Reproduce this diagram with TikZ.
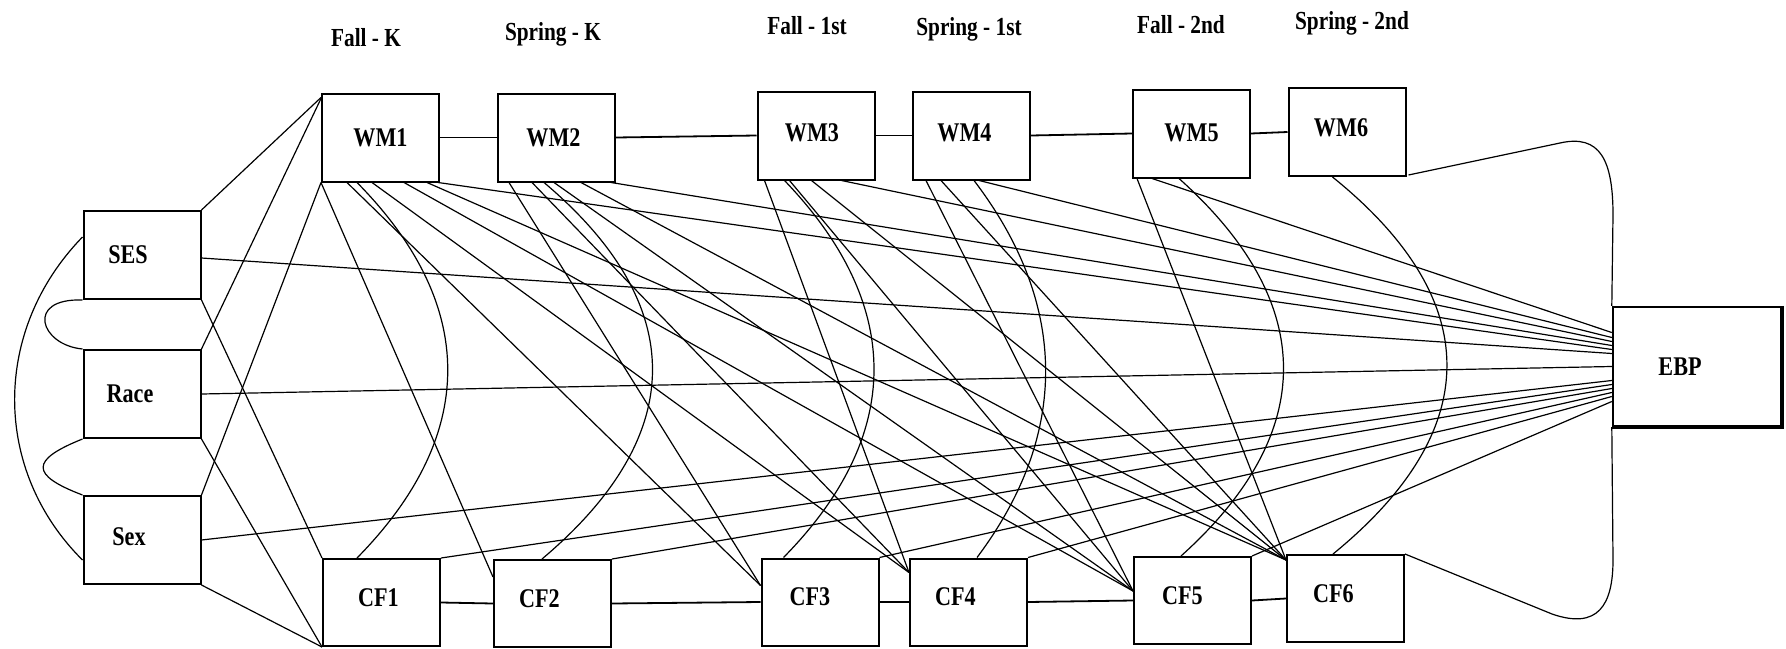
\documentclass[tikz,border=0pt]{standalone}
\usepackage{fontspec}
\newfontfamily\labf{Liberation Serif}[FakeStretch=0.82]
\usetikzlibrary{calc}
\newcommand{\tx}[3]{\hspace*{#1pt}\raisebox{#2pt}{#3}}
\begin{document}
\begin{tikzpicture}[x=1pt,y=-1pt,
  box/.style={draw, line width=2pt, minimum width=117pt, minimum height=88pt, inner sep=0pt,
              font=\labf\bfseries\fontsize{27}{27}\selectfont},
  lnk/.style={line width=1.2pt},
  chain/.style={line width=1.8pt},
  hdr/.style={font=\labf\bfseries\fontsize{26}{26}\selectfont, inner sep=0pt, anchor=base}]
\fill[white] (0,0) rectangle (1786,648);
\useasboundingbox (0,0) rectangle (1786,648);

% headers
\node[hdr] (h1) at (366,46) {Fall - K};
\node[hdr] (h2) at (553,40) {Spring - K};
\node[hdr] (h3) at (807,34) {Fall - 1st};
\node[hdr] (h4) at (969,35) {Spring - 1st};
\node[hdr] (h5) at (1181,33) {Fall - 2nd};
\node[hdr] (h6) at (1352,29) {Spring - 2nd};

% WM boxes
\node[box] (WM1) at (380.5,137.5) {\tx{0}{0}{WM1}};
\node[box] (WM2) at (556.5,137.5) {\tx{-6}{0}{WM2}};
\node[box] (WM3) at (816,135.5) {\tx{-8}{6}{WM3}};
\node[box] (WM4) at (971.5,135.5) {\tx{-14}{6}{WM4}};
\node[box] (WM5) at (1191.5,133.5) {\tx{0}{2}{WM5}};
\node[box] (WM6) at (1347,132) {\tx{-12}{8}{WM6}};
% covariates
\node[box] (SES) at (142,255) {\tx{-28}{0}{SES}};
\node[box] (Race) at (142,394) {\tx{-24}{0}{Race}};
\node[box] (Sex) at (142,540) {\tx{-26}{6}{Sex}};
% CF boxes
\node[box, minimum height=87pt] (CF1) at (381.5,602.5) {\tx{-6}{10}{CF1}};
\node[box, minimum height=87pt] (CF2) at (552.5,603.5) {\tx{-26}{10}{CF2}};
\node[box, minimum height=87pt] (CF3) at (820,602) {\tx{-20}{10}{CF3}};
\node[box, minimum height=87pt] (CF4) at (968.5,602) {\tx{-26}{10}{CF4}};
\node[box, minimum height=87pt] (CF5) at (1192.5,600.5) {\tx{-20}{10}{CF5}};
\node[box, minimum height=87pt] (CF6) at (1345.5,598.5) {\tx{-24}{10}{CF6}};
% outcome
\node[box, minimum width=168pt, minimum height=119pt, line width=2.4pt] (EBP) at (1697,366.5) {\tx{-34}{0}{EBP}};
\draw[line width=3.4pt] (EBP.north east) -- (EBP.south east) -- (EBP.south west);

% autoregressive chains
\draw[chain] (WM1.east) -- (WM2.west);
\draw[chain] (WM2.east) -- (WM3.west);
\draw[chain] (WM3.east) -- (WM4.west);
\draw[chain] (WM4.east) -- (WM5.west);
\draw[chain] (WM5.east) -- (WM6.west);
\draw[chain] (CF1.east) -- (CF2.west);
\draw[chain] (CF2.east) -- (CF3.west);
\draw[chain] (CF3.east) -- (CF4.west);
\draw[chain] (CF4.east) -- (CF5.west);
\draw[chain] (CF5.east) -- (CF6.west);

% covariate paths
\draw[lnk] (SES.north east) -- ($(WM1.north west)+(0,5)$);
\draw[lnk] (Race.north east) -- ($(WM1.north west)+(0,6)$);
\draw[lnk] (Sex.north east) -- (WM1.south west);
\draw[lnk] (SES.south east) -- (CF1.north west);
\draw[lnk] (Race.south east) -- (CF1.south west);
\draw[lnk] (Sex.south east) -- (CF1.south west);
\draw[lnk] ($(SES.east)+(0,3)$) -- ($(EBP.west)+(0,-13)$);
\draw[lnk] (Race.east) -- (EBP.west);
\draw[lnk] (Sex.east) -- ($(EBP.west)+(0,14)$);

% covariate correlations
\draw[lnk] ($(SES.west)+(0,-18)$) .. controls (-8,330) and (-8,470) .. ($(Sex.west)+(0,20)$);
\draw[lnk] (SES.south west) .. controls (25,298) and (40,345) .. (Race.north west);
\draw[lnk] (Race.south west) .. controls (30,460) and (30,475) .. (Sex.north west);

% WM-CF covariances
\draw[lnk] ($(WM1.south west)+(36,0)$) .. controls (478,305) and (478,435) .. ($(CF1.north west)+(35,0)$);
\draw[lnk] ($(WM2.south west)+(47,0)$) .. controls (689,305) and (689,435) .. ($(CF2.north west)+(49,0)$);
\draw[lnk] ($(WM3.south west)+(28,0)$) .. controls (904,305) and (904,435) .. ($(CF3.north west)+(23,0)$);
\draw[lnk] ($(WM4.south west)+(62,0)$) .. controls (1069,305) and (1069,435) .. ($(CF4.north west)+(68,0)$);
\draw[lnk] ($(WM5.south west)+(47,0)$) .. controls (1318,303) and (1318,433) .. ($(CF5.north west)+(48,0)$);
\draw[lnk] ($(WM6.south west)+(45,0)$) .. controls (1485,300) and (1485,430) .. ($(CF6.north west)+(47,0)$);

% WM6 and CF6 to EBP
\draw[lnk] ($(WM6.south east)+(2,-2)$) -- (1560,143) .. controls (1600,134) and (1613,160) .. (1613,215) -- (EBP.north west);
\draw[lnk] (CF6.north east) -- (1552,614) .. controls (1598,630) and (1613,605) .. (1613,560) -- (EBP.south west);

% WM1 paths
\draw[lnk] (WM1.south west) -- ($(CF2.north west)+(0,18)$);
\draw[lnk] ($(WM1.south west)+(26,0)$) -- ($(CF3.north west)+(0,28)$);
\draw[lnk] ($(WM1.south west)+(51,0)$) -- ($(CF4.north west)+(0,15)$);
\draw[lnk] ($(WM1.south west)+(83,0)$) -- ($(CF5.north west)+(0,35)$);
\draw[lnk] ($(WM1.south west)+(106,0)$) -- ($(CF6.north west)+(0,6)$);
\draw[lnk] ($(WM1.south east)+(-2,0)$) -- ($(EBP.west)+(0,-17)$);
% WM2 paths
\draw[lnk] ($(WM2.south west)+(12,0)$) -- ($(CF3.north west)+(0,28)$);
\draw[lnk] ($(WM2.south west)+(35,0)$) -- ($(CF4.north west)+(0,15)$);
\draw[lnk] ($(WM2.south west)+(57,0)$) -- ($(CF5.north west)+(0,35)$);
\draw[lnk] ($(WM2.south west)+(84,0)$) -- ($(CF6.north west)+(0,6)$);
\draw[lnk] ($(WM2.south east)+(-5,0)$) -- ($(EBP.west)+(0,-21)$);
% WM3 paths
\draw[lnk] ($(WM3.south west)+(8,0)$) -- ($(CF4.north west)+(0,15)$);
\draw[lnk] ($(WM3.south west)+(33,0)$) -- ($(CF5.north west)+(0,35)$);
\draw[lnk] ($(WM3.south west)+(55,0)$) -- ($(CF6.north west)+(0,6)$);
\draw[lnk] ($(WM3.south west)+(85,0)$) -- ($(EBP.west)+(0,-25)$);
% WM4 paths
\draw[lnk] ($(WM4.south west)+(14,0)$) -- ($(CF5.north west)+(0,35)$);
\draw[lnk] ($(WM4.south west)+(29,0)$) -- ($(CF6.north west)+(0,6)$);
\draw[lnk] ($(WM4.south west)+(67,0)$) -- ($(EBP.west)+(0,-29)$);
% WM5 paths
\draw[lnk] ($(WM5.south west)+(5,0)$) -- ($(CF6.north west)+(0,6)$);
\draw[lnk] ($(WM5.south west)+(20,0)$) -- ($(EBP.west)+(0,-34)$);

% CF to EBP
\draw[lnk] (CF1.north east) -- ($(EBP.west)+(0,18)$);
\draw[lnk] (CF2.north east) -- ($(EBP.west)+(0,22)$);
\draw[lnk] (CF3.north east) -- ($(EBP.west)+(0,26)$);
\draw[lnk] (CF4.north east) -- ($(EBP.west)+(0,30)$);
\draw[lnk] (CF5.north east) -- ($(EBP.west)+(0,35)$);
\end{tikzpicture}
\end{document}
